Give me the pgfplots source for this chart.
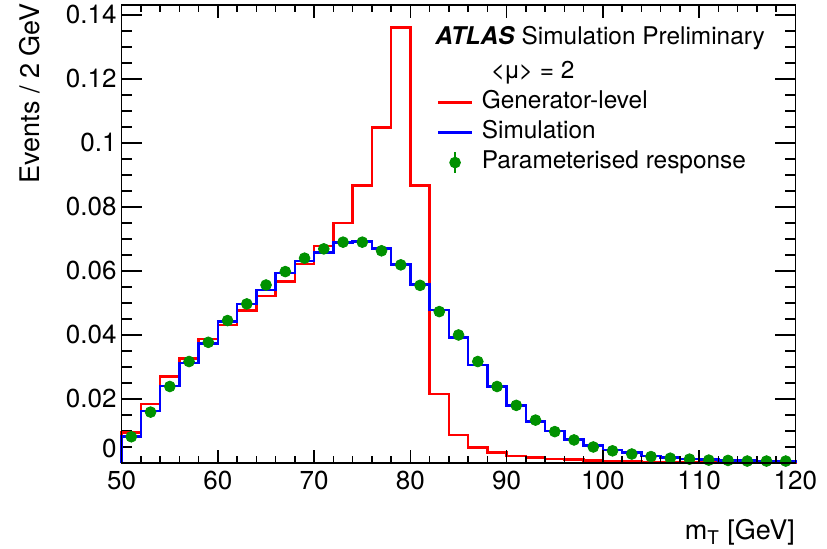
\documentclass[border=0pt]{standalone}
\usepackage{fontspec}
\setmainfont{TeX Gyre Heros}
\usepackage{pgfplots}
\pgfplotsset{compat=1.18}
\definecolor{hred}{RGB}{255,0,0}
\definecolor{hblue}{RGB}{0,0,255}
\definecolor{pgreen}{RGB}{0,145,0}

\begin{document}
\begin{tikzpicture}
\useasboundingbox (-60.85pt,-43pt) rectangle (352.65pt,231.5pt);
% main axis: data, y ticks, labels
\begin{axis}[
  scale only axis, width=336.85pt, height=229pt,
  xmin=50, xmax=120, ymin=0, ymax=0.1431,
  axis line style={line width=0.8pt},
  tick style={line width=0.8pt, black},
  tick align=inside, ytick pos=both,
  xtick={50,60,70,80,90,100,110,120}, xtick style={draw=none}, minor x tick num=0,
  ytick={0,0.02,0.04,0.06,0.08,0.1,0.12,0.14}, minor y tick num=3,
  yticklabels={\raisebox{2.8pt}[0pt][0pt]{0},0.02,0.04,0.06,0.08,0.1,0.12,0.14},
  major tick length=10pt, minor tick length=5pt,
  scaled y ticks=false,
  /pgf/number format/assume math mode=true,
  xticklabel style={font=\fontsize{13}{13}\selectfont, inner sep=0pt, yshift=-4pt},
  yticklabel style={font=\fontsize{13}{13}\selectfont, inner sep=0pt, xshift=-2.4pt},
  xlabel={m\textsubscript{T} [GeV]},
  xlabel style={at={(axis description cs:1,-0.152)}, anchor=east, inner sep=0pt, font=\fontsize{13.5}{14}\selectfont},
  ylabel={Events / 2 GeV},
  ylabel style={at={(axis description cs:-0.1369,1.004)}, anchor=east, inner sep=0pt, font=\fontsize{13.5}{14}\selectfont},
  legend cell align=left,
  legend style={at={(rel axis cs:0.4676,0.8786)}, anchor=north west, draw=none, fill=none,
    inner sep=0pt, outer sep=0pt, font=\fontsize{12.2}{14}\selectfont,
    row sep=3pt, column sep=4.2pt,
    nodes={inner sep=0pt, text height=9pt, text depth=3pt}},
  clip=false,
]
\addlegendimage{legend image code/.code={}}
\addlegendentry{\hspace{4.5pt}<\kern-0.8ptμ\kern-0.8pt> = 2}

% generator-level
\addplot[hred, line width=1.3pt, const plot mark left, mark=none, line legend] coordinates {
  (50,0) (50,0.0095) (52,0.0184) (54,0.0270) (56,0.0327) (58,0.0387)
  (60,0.0431) (62,0.0476) (64,0.0522) (66,0.0567) (68,0.0622)
  (70,0.0678) (72,0.0750) (74,0.0867) (76,0.1049) (78,0.1360)
  (80,0.0867) (82,0.0216) (84,0.0088) (86,0.0049) (88,0.0032)
  (90,0.0022) (92,0.0018) (94,0.0013) (96,0.0010) (98,0.0007)
  (100,0.0005) (102,0.0004) (104,0.0003) (106,0.0003) (108,0.0002)
  (110,0.0002) (112,0.0002) (114,0.0001) (116,0.0001) (118,0.0001)
  (120,0.0001) (120,0)};
\addlegendentry{Generator-level}

% full simulation
\addplot[hblue, line width=1.3pt, const plot mark left, mark=none, line legend] coordinates {
  (50,0) (50,0.0082) (52,0.0163) (54,0.0241) (56,0.0312) (58,0.0374)
  (60,0.0443) (62,0.0497) (64,0.0541) (66,0.0593) (68,0.0631)
  (70,0.0658) (72,0.0688) (74,0.0692) (76,0.0671) (78,0.0621)
  (80,0.0558) (82,0.0478) (84,0.0392) (86,0.0306) (88,0.0239)
  (90,0.0180) (92,0.0130) (94,0.0100) (96,0.0074) (98,0.0055)
  (100,0.0041) (102,0.0032) (104,0.0022) (106,0.0017) (108,0.0013)
  (110,0.0010) (112,0.0008) (114,0.0007) (116,0.0005) (118,0.0005)
  (120,0.0005) (120,0)};
\addlegendentry{Simulation}

% parameterised response
\addplot[only marks, mark=*, mark size=2.7pt, draw=pgreen, fill=pgreen,
  legend image code/.code={
    \draw[pgreen, line width=1pt] (0.3cm,-0.18cm) -- (0.3cm,0.18cm);
    \fill[pgreen] (0.3cm,0cm) circle (2.7pt);}] coordinates {
  (51,0.0082) (53,0.0159) (55,0.0239) (57,0.0317) (59,0.0377)
  (61,0.0445) (63,0.0497) (65,0.0556) (67,0.0598) (69,0.0640)
  (71,0.0669) (73,0.0690) (75,0.0690) (77,0.0663) (79,0.0619)
  (81,0.0555) (83,0.0473) (85,0.0400) (87,0.0317) (89,0.0239)
  (91,0.0180) (93,0.0134) (95,0.0098) (97,0.0072) (99,0.0050)
  (101,0.0038) (103,0.0028) (105,0.0020) (107,0.0015) (109,0.0012)
  (111,0.0009) (113,0.0008) (115,0.0006) (117,0.0006) (119,0.0006)};
\addlegendentry{Parameterised response}

\node[anchor=base west, inner sep=0pt, font=\fontsize{12.2}{14}\selectfont]
  at (rel axis cs:0.465,0.9127) {\textbf{\textit{ATLAS}} Simulation Preliminary};
\end{axis}

% second axis: only the (shorter) x ticks
\begin{axis}[
  scale only axis, width=336.85pt, height=229pt,
  xmin=50, xmax=120, ymin=0, ymax=0.1431,
  axis line style={line width=0.8pt},
  tick style={line width=0.8pt, black},
  tick align=inside, xtick pos=both,
  xtick={50,60,70,80,90,100,110,120}, minor x tick num=4, xticklabels={},
  ytick=\empty,
  major tick length=6.5pt, minor tick length=3.5pt,
]
\end{axis}
\end{tikzpicture}
\end{document}
